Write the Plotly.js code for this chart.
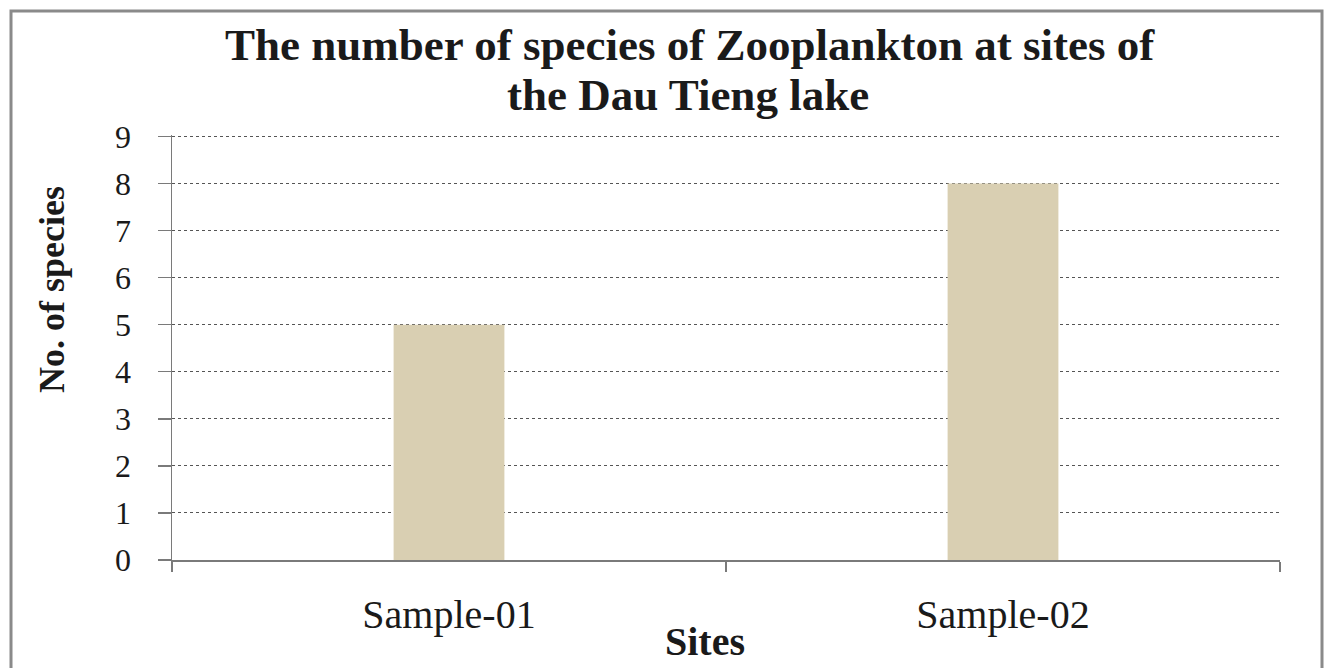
<!DOCTYPE html>
<html>
<head>
<meta charset="utf-8">
<script src="https://cdn.plot.ly/plotly-3.0.1.min.js"></script>
<style>
html,body{margin:0;padding:0;background:#fff;}
#chart{width:1329px;height:668px;}
</style>
</head>
<body>
<div id="chart"></div>
<script>
var sites = ["Sample-01", "Sample-02"];
var speciesCounts = [5, 8];
var yTicks = [0, 1, 2, 3, 4, 5, 6, 7, 8, 9];
var titleLines = ["The number of species of Zooplankton at sites of", "the Dau Tieng lake"];
var xTitle = "Sites";
var yTitle = "No. of species";

var W = 1329, H = 668;
var L = 172, R = 1280, T = 135, B = 560;
function px(x){ return (x - L) / (R - L); }
function py(y){ return (B - y) / (B - T); }

var serif = "Liberation Serif, Times New Roman, serif";

var trace = {
  type: "bar",
  x: sites,
  y: speciesCounts,
  marker: {color: "#d9cfb2", line: {width: 0}},
  hoverinfo: "x+y"
};

var layout = {
  width: W, height: H,
  margin: {l: L, r: W - R, t: T, b: H - B, pad: 0},
  paper_bgcolor: "#ffffff",
  plot_bgcolor: "#ffffff",
  showlegend: false,
  bargap: 0.8,
  font: {family: serif, color: "#1a1a1a"},
  xaxis: {
    type: "category",
    tickson: "boundaries",
    ticks: "outside",
    ticklen: 10,
    tickcolor: "#7a7a7a",
    tickwidth: 1.5,
    showline: true,
    linecolor: "#7a7a7a",
    linewidth: 1.5,
    showgrid: false,
    tickfont: {family: serif, size: 40, color: "#1a1a1a"},
    ticklabelstandoff: 18,
    zeroline: false
  },
  yaxis: {
    range: [0, 9.03],
    tickvals: yTicks,
    ticktext: yTicks.map(String),
    ticks: "outside",
    ticklen: 13,
    tickcolor: "#7a7a7a",
    tickwidth: 1.5,
    showline: true,
    linecolor: "#7a7a7a",
    linewidth: 1.5,
    showgrid: true,
    gridcolor: "#555555",
    gridwidth: 1,
    griddash: "dot",
    zeroline: false,
    tickfont: {family: serif, size: 32, color: "#1a1a1a"},
    ticklabelstandoff: 20
  },
  annotations: [
    {text: "<b>" + titleLines[0] + "</b>", xref: "paper", yref: "paper", x: px(690), y: py(45),
     xanchor: "center", yanchor: "middle", showarrow: false, font: {family: serif, size: 45, color: "#1a1a1a"}},
    {text: "<b>" + titleLines[1] + "</b>", xref: "paper", yref: "paper", x: px(688), y: py(95),
     xanchor: "center", yanchor: "middle", showarrow: false, font: {family: serif, size: 45, color: "#1a1a1a"}},
    {text: "<b>" + xTitle + "</b>", xref: "paper", yref: "paper", x: px(705), y: py(641),
     xanchor: "center", yanchor: "middle", showarrow: false, font: {family: serif, size: 40, color: "#1a1a1a"}},
    {text: "<b>" + yTitle + "</b>", xref: "paper", yref: "paper", x: px(52), y: py(290), textangle: -90,
     xanchor: "center", yanchor: "middle", showarrow: false, font: {family: serif, size: 36, color: "#1a1a1a"}}
  ],
  shapes: [
    {type: "rect", xref: "paper", yref: "paper", x0: px(11), x1: px(1322), y0: py(11), y1: py(700),
     line: {color: "#8a8a8a", width: 3}, fillcolor: "rgba(0,0,0,0)", layer: "above"}
  ]
};

Plotly.newPlot("chart", [trace], layout, {displayModeBar: false, staticPlot: true});
</script>
</body>
</html>
